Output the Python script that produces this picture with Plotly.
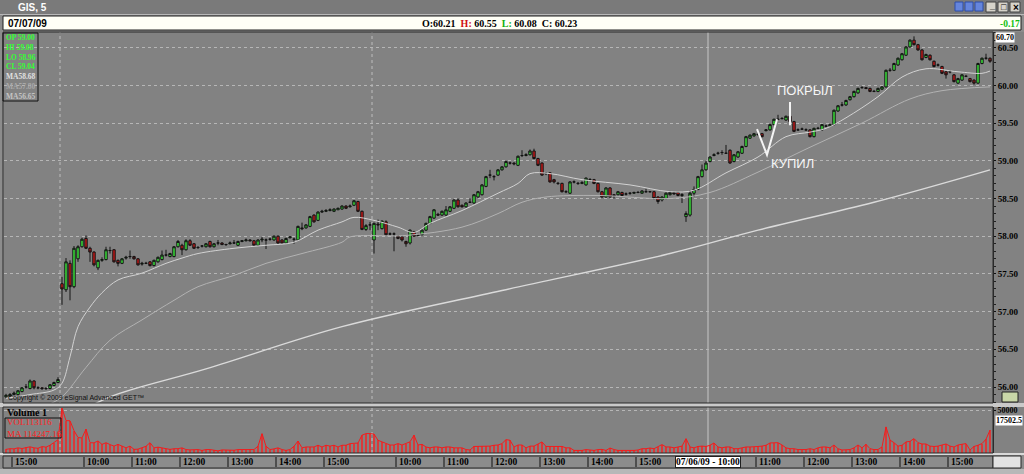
import plotly.graph_objects as go

# ---------------- DATA ----------------
# 5-minute bars, four sessions; each row is (open, high, low, close)
DAY_A = [
    (55.87, 55.91, 55.85, 55.89), (55.88, 55.92, 55.86, 55.90), (55.90, 55.94, 55.89, 55.92),
    (55.90, 55.96, 55.89, 55.95), (55.94, 56.00, 55.93, 55.99), (56.00, 56.04, 55.98, 56.00),
    (55.98, 56.10, 55.97, 56.08), (56.08, 56.09, 55.97, 55.99), (55.99, 56.01, 55.97, 55.99),
    (55.99, 56.00, 55.96, 55.98), (55.98, 56.00, 55.96, 55.98), (55.98, 56.04, 55.97, 56.03),
    (56.02, 56.07, 56.01, 56.06), (56.06, 56.13, 56.05, 56.10),
]
DAY_B = [
    (57.37, 57.46, 57.09, 57.30), (57.29, 57.71, 57.26, 57.66), (57.64, 57.68, 57.15, 57.33),
    (57.33, 57.87, 57.31, 57.84), (57.70, 57.88, 57.66, 57.86), (57.86, 57.98, 57.85, 57.96),
    (57.97, 58.01, 57.83, 57.84), (57.84, 57.86, 57.66, 57.79), (57.79, 57.80, 57.60, 57.62),
    (57.58, 57.69, 57.55, 57.68), (57.68, 57.72, 57.66, 57.69), (57.69, 57.86, 57.68, 57.82),
    (57.81, 57.86, 57.77, 57.81), (57.82, 57.83, 57.65, 57.66), (57.68, 57.69, 57.60, 57.64),
    (57.64, 57.71, 57.63, 57.70), (57.71, 57.74, 57.69, 57.72), (57.73, 57.81, 57.70, 57.73),
    (57.73, 57.74, 57.69, 57.70), (57.70, 57.71, 57.61, 57.62), (57.63, 57.66, 57.61, 57.64),
    (57.64, 57.66, 57.63, 57.64), (57.66, 57.67, 57.60, 57.61), (57.61, 57.69, 57.60, 57.68),
    (57.66, 57.73, 57.65, 57.72), (57.69, 57.81, 57.68, 57.75), (57.75, 57.82, 57.73, 57.75),
    (57.73, 57.78, 57.72, 57.77), (57.73, 57.87, 57.72, 57.86), (57.86, 57.95, 57.85, 57.93),
    (57.88, 57.90, 57.75, 57.82), (57.82, 57.96, 57.81, 57.94), (57.94, 57.96, 57.87, 57.88),
    (57.90, 57.91, 57.83, 57.84), (57.85, 57.87, 57.83, 57.85), (57.87, 57.88, 57.85, 57.87),
    (57.86, 57.91, 57.85, 57.90), (57.93, 57.94, 57.85, 57.86), (57.86, 57.91, 57.85, 57.90),
    (57.91, 57.95, 57.88, 57.91), (57.91, 57.92, 57.88, 57.89), (57.89, 57.90, 57.87, 57.89),
    (57.90, 57.93, 57.89, 57.91), (57.91, 57.95, 57.90, 57.91), (57.88, 57.94, 57.87, 57.93),
    (57.93, 57.95, 57.92, 57.94), (57.94, 57.97, 57.93, 57.95), (57.95, 57.96, 57.93, 57.94),
    (57.94, 57.95, 57.87, 57.88), (57.88, 57.96, 57.87, 57.95), (57.95, 57.99, 57.92, 57.96),
    (57.95, 57.97, 57.83, 57.95), (57.96, 57.98, 57.94, 57.96), (57.95, 58.01, 57.94, 58.00),
    (58.00, 58.01, 57.90, 57.91), (57.95, 57.96, 57.90, 57.91), (57.91, 57.98, 57.90, 57.97),
    (57.98, 58.00, 57.97, 57.99), (57.96, 57.98, 57.90, 57.96), (57.95, 58.14, 57.94, 58.13),
    (58.11, 58.18, 58.08, 58.10), (58.11, 58.16, 58.10, 58.15), (58.13, 58.27, 58.12, 58.26),
    (58.28, 58.29, 58.18, 58.19), (58.21, 58.33, 58.20, 58.32), (58.32, 58.35, 58.31, 58.33),
    (58.33, 58.36, 58.32, 58.34), (58.34, 58.37, 58.33, 58.35), (58.33, 58.37, 58.32, 58.36),
    (58.35, 58.38, 58.35, 58.37), (58.36, 58.41, 58.35, 58.40), (58.40, 58.41, 58.36, 58.37),
    (58.39, 58.42, 58.38, 58.40), (58.41, 58.48, 58.40, 58.47), (58.46, 58.47, 58.32, 58.33),
    (58.33, 58.34, 58.08, 58.09), (58.09, 58.16, 58.07, 58.14), (58.15, 58.19, 58.08, 58.15),
]
DAY_C = [
    (57.95, 58.18, 57.77, 58.17), (58.16, 58.22, 58.08, 58.15), (58.10, 58.21, 58.09, 58.20),
    (58.19, 58.21, 58.00, 58.02), (58.03, 58.05, 58.01, 58.03), (58.03, 58.05, 57.80, 58.03),
    (58.00, 58.01, 57.96, 57.97), (57.99, 58.00, 57.93, 57.95), (57.93, 57.94, 57.86, 57.90),
    (57.91, 58.09, 57.89, 58.08), (58.06, 58.07, 57.99, 58.00), (58.01, 58.03, 58.00, 58.02),
    (58.02, 58.09, 58.01, 58.08), (58.08, 58.18, 58.07, 58.17), (58.17, 58.27, 58.16, 58.26),
    (58.24, 58.36, 58.23, 58.35), (58.29, 58.31, 58.27, 58.28), (58.28, 58.34, 58.27, 58.33),
    (58.28, 58.40, 58.27, 58.35), (58.33, 58.40, 58.32, 58.39), (58.37, 58.49, 58.36, 58.48),
    (58.48, 58.50, 58.38, 58.39), (58.41, 58.42, 58.38, 58.39), (58.39, 58.45, 58.38, 58.44),
    (58.45, 58.50, 58.44, 58.45), (58.44, 58.56, 58.43, 58.55), (58.52, 58.60, 58.51, 58.59),
    (58.55, 58.69, 58.54, 58.68), (58.66, 58.80, 58.65, 58.79), (58.81, 58.88, 58.77, 58.81),
    (58.79, 58.81, 58.74, 58.79), (58.81, 58.89, 58.80, 58.88), (58.88, 58.93, 58.87, 58.92),
    (58.92, 59.00, 58.91, 58.99), (58.97, 58.99, 58.95, 58.97), (58.97, 58.98, 58.94, 58.96),
    (58.94, 59.07, 58.93, 59.06), (59.07, 59.14, 59.05, 59.07), (59.07, 59.10, 59.06, 59.08),
    (59.08, 59.15, 59.07, 59.13), (59.13, 59.16, 59.02, 59.03), (59.03, 59.04, 58.93, 58.94),
    (58.97, 58.98, 58.80, 58.81), (58.83, 58.85, 58.81, 58.83), (58.84, 58.85, 58.71, 58.72),
    (58.75, 58.76, 58.70, 58.72), (58.70, 58.72, 58.68, 58.70), (58.70, 58.71, 58.58, 58.59),
    (58.59, 58.61, 58.57, 58.59), (58.57, 58.73, 58.56, 58.72), (58.72, 58.74, 58.70, 58.72),
    (58.70, 58.72, 58.68, 58.70), (58.70, 58.73, 58.69, 58.71), (58.68, 58.78, 58.67, 58.77),
    (58.75, 58.77, 58.73, 58.75), (58.75, 58.76, 58.69, 58.70), (58.70, 58.71, 58.58, 58.59),
    (58.59, 58.60, 58.51, 58.52), (58.52, 58.65, 58.51, 58.64), (58.64, 58.65, 58.51, 58.52),
    (58.55, 58.56, 58.50, 58.54), (58.55, 58.60, 58.54, 58.59), (58.58, 58.59, 58.53, 58.54),
    (58.56, 58.58, 58.54, 58.56), (58.57, 58.58, 58.55, 58.57), (58.57, 58.59, 58.56, 58.58),
    (58.58, 58.60, 58.57, 58.58), (58.57, 58.61, 58.56, 58.60), (58.59, 58.63, 58.58, 58.59),
    (58.59, 58.60, 58.58, 58.59), (58.59, 58.60, 58.49, 58.50), (58.52, 58.53, 58.43, 58.46),
    (58.48, 58.53, 58.46, 58.52), (58.50, 58.58, 58.49, 58.57), (58.55, 58.60, 58.54, 58.58),
    (58.58, 58.59, 58.55, 58.56), (58.58, 58.59, 58.53, 58.54), (58.54, 58.57, 58.44, 58.55),
]
DAY_D = [
    (58.26, 58.33, 58.19, 58.30), (58.28, 58.61, 58.26, 58.57), (58.57, 58.66, 58.52, 58.62),
    (58.62, 58.80, 58.61, 58.79), (58.79, 58.95, 58.78, 58.88), (58.88, 59.00, 58.87, 58.97),
    (58.99, 59.06, 58.98, 59.05), (59.07, 59.10, 59.06, 59.08), (59.10, 59.12, 59.08, 59.10),
    (59.11, 59.14, 59.08, 59.11), (59.10, 59.21, 59.09, 59.10), (59.14, 59.15, 58.96, 58.97),
    (58.99, 59.09, 58.98, 59.08), (59.05, 59.13, 59.04, 59.12), (59.10, 59.20, 59.09, 59.19),
    (59.19, 59.33, 59.18, 59.32), (59.30, 59.35, 59.29, 59.34), (59.33, 59.37, 59.32, 59.36),
    (59.35, 59.38, 59.33, 59.35), (59.36, 59.37, 59.31, 59.32), (59.40, 59.42, 59.39, 59.41),
    (59.41, 59.49, 59.40, 59.48), (59.48, 59.56, 59.47, 59.55), (59.55, 59.61, 59.54, 59.55),
    (59.56, 59.58, 59.55, 59.56), (59.54, 59.60, 59.53, 59.59), (59.59, 59.60, 59.51, 59.52),
    (59.52, 59.53, 59.38, 59.39), (59.41, 59.43, 59.40, 59.41), (59.42, 59.44, 59.41, 59.42),
    (59.41, 59.43, 59.40, 59.41), (59.41, 59.42, 59.31, 59.32), (59.32, 59.44, 59.31, 59.43),
    (59.43, 59.45, 59.42, 59.43), (59.41, 59.49, 59.40, 59.48), (59.46, 59.48, 59.45, 59.46),
    (59.46, 59.49, 59.45, 59.48), (59.48, 59.68, 59.47, 59.67), (59.66, 59.74, 59.65, 59.73),
    (59.74, 59.78, 59.72, 59.74), (59.74, 59.81, 59.73, 59.80), (59.81, 59.86, 59.80, 59.85),
    (59.85, 59.93, 59.84, 59.92), (59.90, 59.97, 59.89, 59.96), (59.97, 59.99, 59.96, 59.97),
    (59.97, 59.98, 59.95, 59.96), (59.96, 59.97, 59.91, 59.92), (59.92, 59.94, 59.91, 59.92),
    (59.92, 59.97, 59.91, 59.96), (59.95, 59.99, 59.94, 59.98), (59.98, 60.21, 59.97, 60.20),
    (60.20, 60.23, 60.18, 60.20), (60.20, 60.30, 60.19, 60.29), (60.27, 60.37, 60.26, 60.36),
    (60.34, 60.43, 60.33, 60.42), (60.40, 60.52, 60.39, 60.51), (60.51, 60.61, 60.50, 60.60),
    (60.60, 60.65, 60.53, 60.54), (60.54, 60.55, 60.46, 60.47), (60.47, 60.48, 60.33, 60.34),
    (60.37, 60.42, 60.36, 60.41), (60.40, 60.41, 60.33, 60.34), (60.32, 60.33, 60.24, 60.25),
    (60.27, 60.29, 60.25, 60.27), (60.25, 60.26, 60.15, 60.16), (60.18, 60.19, 60.09, 60.14),
    (60.18, 60.20, 60.16, 60.18), (60.14, 60.15, 60.04, 60.05), (60.03, 60.10, 60.02, 60.09),
    (60.07, 60.15, 60.06, 60.14), (60.12, 60.14, 60.11, 60.12), (60.09, 60.10, 60.04, 60.05),
    (60.07, 60.08, 60.01, 60.03), (60.03, 60.30, 60.02, 60.29), (60.29, 60.37, 60.28, 60.36),
    (60.36, 60.42, 60.34, 60.36), (60.36, 60.37, 60.30, 60.32),
]

VOL_A = [4200, 5000, 4800, 6000, 5200, 6500, 7200, 6000, 5500, 7500, 6800, 9000, 12000, 15500]
VOL_B = [52000, 37700, 37500, 26000, 18000, 17500, 27800, 12000, 11800, 14000,
         10000, 12000, 9800, 8000, 10000, 7800, 6000, 8000, 4200, 4500,
         6000, 7800, 12000, 6000, 6800, 6000, 5200, 4200, 5000, 5000,
         6000, 4000, 3600, 4000, 4000, 3000, 4000, 4000, 3000, 2500,
         3600, 3600, 3000, 3200, 4000, 4000, 4000, 4800, 4000, 7900,
         22600, 7800, 4000, 4800, 6000, 4000, 3000, 4000, 7800, 13900,
         6000, 7000, 7000, 7000, 9000, 7000, 9000, 8000, 9000, 7000,
         9000, 9000, 10900, 10900, 11600, 20700, 22600, 22600]
VOL_C = [22000, 14800, 13000, 10900, 9300, 9300, 11000, 9300, 11000, 13000,
         20700, 9300, 10000, 7000, 6000, 7000, 7000, 6000, 7000, 7000,
         6000, 6000, 6000, 4000, 3500, 7600, 7600, 8000, 7600, 8000,
         9000, 9300, 11000, 15600, 14800, 7000, 9300, 9300, 6000, 8000,
         8000, 10000, 12900, 7600, 7600, 7000, 7600, 7600, 6000, 6000,
         3000, 3000, 3000, 4000, 3500, 3000, 4000, 4200, 3000, 5800,
         4000, 3000, 3000, 2800, 3000, 3000, 3500, 5000, 5000, 5800,
         5000, 7000, 9800, 7000, 7000, 6000, 7000, 8000]
VOL_D = [16800, 7000, 6000, 7600, 8000, 7600, 9000, 11700, 7000, 6000,
         7000, 7000, 5000, 5000, 6000, 7000, 7000, 7000, 7600, 8000,
         9000, 11700, 11700, 12000, 9300, 6000, 5000, 5000, 4000, 4000,
         4000, 5000, 4000, 6000, 7000, 7000, 6000, 9300, 5000, 3500,
         3500, 4000, 6000, 9300, 6000, 10000, 5000, 4000, 4000, 7000,
         30400, 15000, 12000, 8000, 9000, 12900, 13500, 16800, 12000, 10500,
         10500, 8000, 7600, 8000, 9300, 10500, 8000, 7000, 9300, 10500,
         11000, 3500, 7600, 9000, 11000, 16000, 26500]

# moving averages, read at bar positions
MA_FAST_BAR = [0, 6, 12, 14, 16, 18, 21, 24, 28, 34, 40, 44, 48, 57, 65, 72, 78, 84, 87, 92,
               98, 102, 106, 114, 123, 128, 131, 136, 144, 156, 166, 172, 180, 188, 195, 201,
               205, 210, 218, 224, 230, 238, 244, 246]
MA_FAST_VAL = [55.85, 55.90, 55.96, 56.05, 56.40, 56.80, 57.06, 57.25, 57.42, 57.51,
               57.64, 57.71, 57.77, 57.84, 57.88, 57.92, 58.08, 58.19, 58.25, 58.21,
               58.12, 58.05, 58.17, 58.34, 58.57, 58.70, 58.83, 58.83, 58.75, 58.68,
               58.59, 58.61, 58.84, 59.05, 59.32, 59.38, 59.43, 59.57, 59.85, 60.11,
               60.22, 60.18, 60.16, 60.19]
MA_MID_BAR = [10, 14, 20, 26, 34, 42, 48, 57, 65, 74, 84, 86, 100, 114, 123, 129, 135, 148,
              166, 176, 188, 201, 214, 226, 234, 246]
MA_MID_VAL = [55.75, 55.87, 56.26, 56.62, 56.89, 57.15, 57.33, 57.48, 57.64, 57.77,
              57.92, 57.99, 58.01, 58.12, 58.30, 58.45, 58.52, 58.54, 58.50, 58.58,
              58.85, 59.18, 59.50, 59.82, 59.93, 59.98]
MA_SLOW_BAR = [18, 26, 50, 84, 124, 166, 188, 217, 246]
MA_SLOW_VAL = [55.65, 55.87, 56.24, 56.80, 57.28, 57.77, 58.08, 58.45, 58.88]

PRICE_TICKS = [56.0, 56.5, 57.0, 57.5, 58.0, 58.5, 59.0, 59.5, 60.0, 60.5]
TIME_TICK_BAR = [2, 20, 32, 44, 56, 68, 80, 98, 110, 122, 134, 146, 158, 188, 200, 212, 224, 236]
TIME_TICK_TEXT = ["15:00", "10:00", "11:00", "12:00", "13:00", "14:00", "15:00",
                  "10:00", "11:00", "12:00", "13:00", "14:00", "15:00",
                  "11:00", "12:00", "13:00", "14:00", "15:00"]
SESSION_START_BAR = [14, 92]
CURSOR_BAR = 176
CURSOR_TEXT = "07/06/09 - 10:00"

INFO_LINES = [("OP 59.00", "#33ff33"), ("HI 59.08", "#33ff33"), ("LO 58.96", "#33ff33"),
              ("CL 59.04", "#33ff33"), ("MA58.68", "#e0e0e0"), ("MA57.80", "#a9a9a9"),
              ("MA56.65", "#c4c4c4")]

# ---------------- BUILD ----------------
rows = DAY_A + DAY_B + DAY_C + DAY_D
bars = list(range(len(rows)))
o = [r[0] for r in rows]
h = [r[1] for r in rows]
l = [r[2] for r in rows]
c = [r[3] for r in rows]
vol = VOL_A + VOL_B + VOL_C + VOL_D

FW, FH = 1024, 474
ML, MR, MT, MB = 4, 31, 32, 21
PW, PH = FW - ML - MR, FH - MT - MB


def fx(px):
    return (px - ML) / PW


def fy(py):
    return (FH - MB - py) / PH


SERIF = "Liberation Serif"
SANS = "Liberation Sans"

fig = go.Figure()
fig.add_trace(go.Scatter(x=MA_SLOW_BAR, y=MA_SLOW_VAL, mode="lines", yaxis="y",
                         line=dict(color="#dadada", width=1.4, shape="spline"), hoverinfo="skip"))
fig.add_trace(go.Scatter(x=MA_MID_BAR, y=MA_MID_VAL, mode="lines", yaxis="y",
                         line=dict(color="#b2b2b2", width=1, shape="spline"), hoverinfo="skip"))
fig.add_trace(go.Scatter(x=MA_FAST_BAR, y=MA_FAST_VAL, mode="lines", yaxis="y",
                         line=dict(color="#d2d2d2", width=1, shape="spline"), hoverinfo="skip"))
fig.add_trace(go.Candlestick(
    x=bars, open=o, high=h, low=l, close=c, yaxis="y", whiskerwidth=0,
    increasing=dict(line=dict(color="#141414", width=1), fillcolor="#3ef03e"),
    decreasing=dict(line=dict(color="#141414", width=1), fillcolor="#c81818"),
    hoverinfo="skip"))
fig.add_trace(go.Bar(x=bars, y=vol, yaxis="y2", width=0.2,
                     marker=dict(color="#d83a3a", line=dict(width=0)), hoverinfo="skip"))
fig.add_trace(go.Scatter(x=bars, y=vol, yaxis="y2", mode="lines",
                         line=dict(color="#f01e1e", width=1), hoverinfo="skip"))

shapes = []


def rect(x0, y0, x1, y1, fill=None, line="#303030", lw=1, layer="above"):
    shapes.append(dict(type="rect", xref="paper", yref="paper", x0=fx(x0), x1=fx(x1),
                       y0=fy(y1), y1=fy(y0), fillcolor=fill if fill else "rgba(0,0,0,0)",
                       line=dict(color=line, width=lw), layer=layer))


def hline(x0, x1, y, color, w=1):
    shapes.append(dict(type="line", xref="paper", yref="paper", x0=fx(x0), x1=fx(x1),
                       y0=fy(y), y1=fy(y), line=dict(color=color, width=w)))


# window chrome
rect(0, 0, 1024, 14, fill="#7a7a7a", lw=0)
hline(0, 1024, 14.5, "#b8b8b8", 1)
rect(3, 16, 1021, 30, fill="#fffff6", line="#202020")
for xx in [955, 965, 975]:
    rect(xx, 2, xx + 8, 11, fill="#6585dc", line="#2c4ca8")
for xx in [986, 998, 1010]:
    rect(xx, 2, xx + 10, 12, fill="#d6d3cb", line="#404040")
rect(993, 32, 1024, 453, fill="#828282", lw=0, layer="below")
rect(0, 403, 1024, 407, fill="#cacaca", lw=0)
hline(0, 1024, 454, "#d8d8d8", 2)
rect(3, 456, 993, 468, fill="#8c8c8c", line="#2a2a2a")
rect(993, 456, 1021, 468, fill="#e2e2e2", line="#2a2a2a")
rect(0, 469, 1024, 474, fill="#b8b8b8", lw=0)
rect(3, 32, 993, 403, line="#2a2a2a")
rect(3, 407, 993, 453, line="#2a2a2a")
rect(3, 33, 38, 101, line="#101010")
rect(5, 418, 61, 438, line="#101010")
rect(1002, 392, 1018, 402, fill="#c9d7a8", line="#202020")

# session separators and cursor line
for b in SESSION_START_BAR:
    shapes.append(dict(type="line", xref="x", yref="paper", x0=b - 0.5, x1=b - 0.5, y0=0, y1=1,
                       line=dict(color="#bdbdbd", width=1, dash="dot"), layer="below"))
shapes.append(dict(type="line", xref="x", yref="paper", x0=CURSOR_BAR - 0.5, x1=CURSOR_BAR - 0.5,
                   y0=0, y1=1, line=dict(color="#c6c6c6", width=1), layer="below"))
# time axis tick marks
for b in TIME_TICK_BAR:
    shapes.append(dict(type="line", xref="x", yref="paper", x0=b - 0.5, x1=b - 0.5,
                       y0=fy(467), y1=fy(457), line=dict(color="#101010", width=1)))

# hand-drawn marks of the author (bar index, price)
shapes.append(dict(type="line", xref="x", yref="y", x0=196, x1=196, y0=59.78, y1=59.47,
                   line=dict(color="#f4f4f4", width=2)))
shapes.append(dict(type="path", xref="x", yref="y",
                   path="M 187.75,59.42 L 190.25,59.08 L 192.75,59.55",
                   line=dict(color="#f4f4f4", width=2)))

ann = []


def text(x, y, s, size=10, color="black", family=SERIF, weight="bold", xanchor="left",
         xref="paper", yref="paper", **kw):
    ann.append(dict(x=x, y=y, xref=xref, yref=yref, text=s, showarrow=False, xanchor=xanchor,
                    yanchor="middle", font=dict(size=size, color=color, family=family, weight=weight),
                    **kw))


text(fx(16), fy(7), "GIS, 5", size=10, color="white", family=SANS)
text(fx(987), fy(6), "_", size=9, color="black", family=SANS)
text(fx(999), fy(7), "□", size=9, color="black", family=SANS)
text(fx(1011), fy(7), "×", size=10, color="black", family=SANS)
text(fx(6), fy(23.5), "07/07/09", size=10, family=SANS)
nb = "\u00a0\u00a0"
text(fx(499), fy(23.5),
     "O:60.21" + nb + '<span style="color:#d01010">H:</span> 60.55' + nb +
     '<span style="color:#10b010">L:</span> 60.08' + nb + "C: 60.23",
     size=10, xanchor="center")
text(fx(998), fy(23.5), "-0.17", size=9.5, color="#10c010")
text(fx(995), fy(37), "60.70", size=8, bgcolor="white", borderpad=0)
text(fx(4), fy(67), "<br>".join('<span style="color:%s">%s</span>' % (col, s) for s, col in INFO_LINES),
     size=7.5, color="#33ff33", align="left")
text(fx(6), fy(398), "Copyright © 2009 eSignal Advanced GET™", size=7, color="#101010",
     family=SANS, weight="normal")
text(fx(5), fy(412), "Volume 1", size=10)
text(fx(5), fy(428), "VOL113116<br>MA 114247.16", size=9, color="#ff2020", align="left",
     weight="normal")
text(fx(995), fy(420), "17502.5", size=8, bgcolor="white", borderpad=0)
for b, s in zip(TIME_TICK_BAR, TIME_TICK_TEXT):
    text(b - 0.5, fy(462), s, size=9.5, xref="x", xshift=1)
text(CURSOR_BAR - 0.5, fy(462), CURSOR_TEXT, size=9.5, xref="x", xanchor="center",
     bgcolor="white", bordercolor="#202020", borderwidth=1, borderpad=0)
text(199.75, 59.93, "ПОКРЫЛ", size=13, color="#f6f6f6", family=SANS, weight="normal",
     xref="x", yref="y", xanchor="center")
text(196.5, 58.97, "КУПИЛ", size=13, color="#f6f6f6", family=SANS, weight="normal",
     xref="x", yref="y", xanchor="center")

fig.update_layout(
    width=FW, height=FH, margin=dict(l=ML, r=MR, t=MT, b=MB),
    paper_bgcolor="#8c8c8c", plot_bgcolor="#828282", showlegend=False, hovermode=False,
    bargap=0, boxgap=0.15,
    xaxis=dict(range=[-0.5, 246.75], anchor="y2", showticklabels=False, showgrid=False,
               zeroline=False, showline=False, ticks="", rangeslider=dict(visible=False)),
    yaxis=dict(domain=[fy(403), 1], range=[55.788, 60.708], side="right", anchor="x",
               tickvals=PRICE_TICKS, ticktext=["%.2f" % p for p in PRICE_TICKS],
               tickfont=dict(family=SERIF, size=9, color="black", weight="bold"),
               ticks="outside", ticklen=2, tickcolor="#111", showline=True, linecolor="#2a2a2a",
               showgrid=True, gridcolor="#b6b6b6", griddash="dot", gridwidth=1, zeroline=False,
               minor=dict(dtick=0.1, ticks="outside", ticklen=2, tickcolor="#222", showgrid=False)),
    yaxis2=dict(domain=[0, fy(407)], range=[0, 53500], side="right", anchor="x",
                tickvals=[50000], ticktext=["50000"],
                tickfont=dict(family=SERIF, size=8, color="black", weight="bold"),
                ticks="outside", ticklen=2, tickcolor="#111", showline=True, linecolor="#2a2a2a",
                showgrid=True, gridcolor="#b6b6b6", griddash="dot", zeroline=False),
    shapes=shapes, annotations=ann,
)

fig.write_html("out.html", config={"displayModeBar": False},
               post_script="document.body.style.margin='0';document.body.style.overflow='hidden';")
